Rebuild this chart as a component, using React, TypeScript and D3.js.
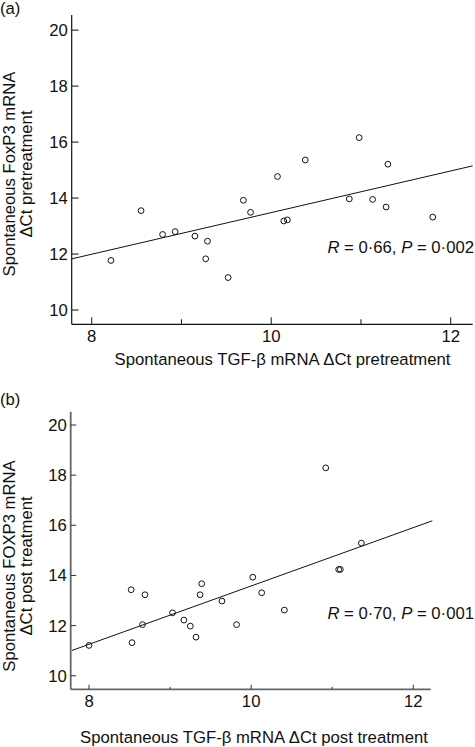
import React from "react";
import * as d3 from "d3";

// Panel (a) data: pretreatment
const aX = [10.98, 10.38, 10.07, 11.30, 8.55, 8.215, 8.79, 8.93, 9.15, 9.29, 9.27, 9.52, 9.69, 9.77, 10.14, 10.18, 10.87, 11.13, 11.28, 11.80];
const aY = [16.16, 15.36, 14.77, 15.21, 13.55, 11.77, 12.70, 12.80, 12.64, 12.46, 11.83, 11.16, 13.92, 13.49, 13.18, 13.22, 13.97, 13.95, 13.68, 13.32];
const aFitX = [7.78, 12.245];
const aFitY = [11.83, 15.15];

// Panel (b) data: post treatment
const bX = [10.92, 11.36, 11.08, 11.10, 8.0, 8.52, 8.53, 8.69, 8.66, 9.03, 9.17, 9.25, 9.32, 9.37, 9.39, 9.64, 9.82, 10.02, 10.13, 10.41];
const bY = [18.29, 15.29, 14.24, 14.24, 11.21, 13.43, 11.32, 13.23, 12.04, 12.51, 12.22, 11.98, 11.54, 13.23, 13.67, 12.98, 12.04, 13.93, 13.31, 12.62];
const bFitX = [7.79, 12.235];
const bFitY = [11.01, 16.18];

const xTicks = [8, 10, 12];
const xMinorTicks = [9, 11];
const yTicks = [10, 12, 14, 16, 18, 20];

const FONT = "'Liberation Sans', Arial, sans-serif";
const FS = 16.7;

type PanelProps = {
  tag: string;
  xs: number[];
  ys: number[];
  fitX: number[];
  fitY: number[];
  xDomain: [number, number];
  xRange: [number, number];
  yDomain: [number, number];
  yRange: [number, number];
  axisColor: string;
  axisWidth: number;
  tickColor: string;
  yTickLen: number;
  xTickLen: number;
  minorLen: number;
  xLabel: string;
  yLabel1: string;
  yLabel2: string;
  yLabelCenter: number;
  xLabelX: number;
  xLabelY: number;
  stat: string[];
  statY: number;
  tagY: number;
};

function Panel(p: PanelProps) {
  const x = d3.scaleLinear().domain(p.xDomain).range(p.xRange);
  const y = d3.scaleLinear().domain(p.yDomain).range(p.yRange);
  const x0 = p.xRange[0];
  const yb = p.yRange[0];
  const line = d3.line<number>().x((d) => x(p.fitX[d])).y((d) => y(p.fitY[d]));
  return (
    <g fontFamily={FONT} fill="#111">
      <text x={0} y={p.tagY} fontSize={FS}>{p.tag}</text>
      <line x1={x0} x2={x0} y1={p.yRange[1]} y2={yb} stroke={p.axisColor} strokeWidth={p.axisWidth} />
      <line x1={x0} x2={p.xRange[1]} y1={yb} y2={yb} stroke={p.axisColor} strokeWidth={p.axisWidth} />
      {yTicks.map((t) => (
        <g key={"y" + t}>
          <line x1={x0} x2={x0 + p.yTickLen} y1={y(t)} y2={y(t)} stroke={p.tickColor} />
          <text x={x0 - 4} y={y(t) + 6} fontSize={FS} textAnchor="end">{t}</text>
        </g>
      ))}
      {xTicks.map((t) => (
        <g key={"x" + t}>
          <line x1={x(t)} x2={x(t)} y1={yb} y2={yb - p.xTickLen} stroke={p.tickColor} />
          <text x={x(t)} y={yb + 17.5} fontSize={FS} textAnchor="middle">{t}</text>
        </g>
      ))}
      {xMinorTicks.map((t) => (
        <line key={"m" + t} x1={x(t)} x2={x(t)} y1={yb} y2={yb - p.minorLen} stroke={p.tickColor} />
      ))}
      <path d={line([0, 1]) || ""} fill="none" stroke="#111" strokeWidth={1} />
      {p.xs.map((v, i) => (
        <circle key={i} cx={x(v)} cy={y(p.ys[i])} r={2.9} fill="none" stroke="#111" strokeWidth={1} />
      ))}
      <text x={p.xLabelX} y={p.xLabelY} fontSize={FS} textAnchor="middle">{p.xLabel}</text>
      <text transform={`translate(14.5,${p.yLabelCenter}) rotate(-90)`} fontSize={FS} textAnchor="middle">{p.yLabel1}</text>
      <text transform={`translate(31.5,${p.yLabelCenter}) rotate(-90)`} fontSize={FS} textAnchor="middle">{p.yLabel2}</text>
      <text x={474} y={p.statY} fontSize={FS} textAnchor="end">
        <tspan fontStyle="italic">{p.stat[0]}</tspan>
        <tspan>{p.stat[1]}</tspan>
        <tspan fontStyle="italic">{p.stat[2]}</tspan>
        <tspan>{p.stat[3]}</tspan>
      </text>
    </g>
  );
}

export default function App() {
  return (
    <svg width={475} height={747} style={{ position: "absolute", left: 0, top: 0, background: "#fff" }}>
      <Panel
        tag="(a)"
        tagY={14}
        xs={aX}
        ys={aY}
        fitX={aFitX}
        fitY={aFitY}
        xDomain={[7.777, 12.245]}
        xRange={[71.7, 472.7]}
        yDomain={[9.49, 20.54]}
        yRange={[324.3, 15]}
        axisColor="#111"
        axisWidth={1.2}
        tickColor="#111"
        yTickLen={7}
        xTickLen={7}
        minorLen={5}
        xLabel="Spontaneous TGF-β mRNA ΔCt pretreatment"
        xLabelX={282.5}
        xLabelY={365}
        yLabel1="Spontaneous FoxP3 mRNA"
        yLabel2="ΔCt pretreatment"
        yLabelCenter={174}
        stat={["R", " = 0·66, ", "P", " = 0·002"]}
        statY={252.7}
      />
      <Panel
        tag="(b)"
        tagY={405}
        xs={bX}
        ys={bY}
        fitX={bFitX}
        fitY={bFitY}
        xDomain={[7.774, 12.215]}
        xRange={[70.7, 430.7]}
        yDomain={[9.46, 20.53]}
        yRange={[689.3, 411.7]}
        axisColor="#666"
        axisWidth={1.8}
        tickColor="#333"
        yTickLen={5.5}
        xTickLen={4.5}
        minorLen={2.5}
        xLabel="Spontaneous TGF-β mRNA ΔCt post treatment"
        xLabelX={254}
        xLabelY={742.5}
        yLabel1="Spontaneous FOXP3 mRNA"
        yLabel2="ΔCt post treatment"
        yLabelCenter={566}
        stat={["R", " = 0·70, ", "P", " = 0·001"]}
        statY={619}
      />
    </svg>
  );
}
